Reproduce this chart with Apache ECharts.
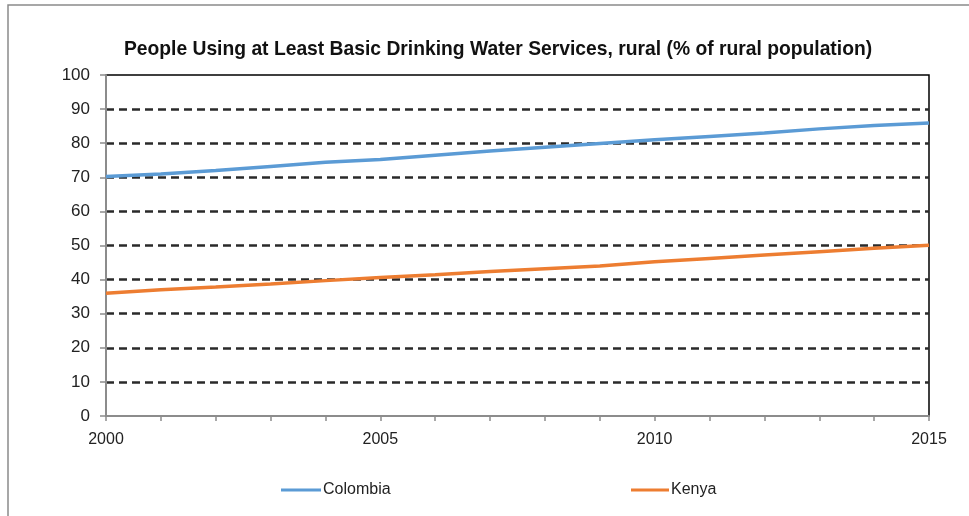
<!DOCTYPE html>
<html>
<head>
<meta charset="utf-8">
<title>Rural basic drinking water</title>
<script src="https://cdn.jsdelivr.net/npm/echarts@6/dist/echarts.min.js"></script>
<style>
  html, body { margin: 0; padding: 0; background: #fff; }
  #chart { width: 969px; height: 516px; }
</style>
</head>
<body>
<div id="chart"></div>
<script>
  // values
  var years = ['2000', '2001', '2002', '2003', '2004', '2005', '2006', '2007',
               '2008', '2009', '2010', '2011', '2012', '2013', '2014', '2015'];
  var colombia = [70.2, 71.0, 72.0, 73.2, 74.4, 75.2, 76.5, 77.7,
                  78.8, 79.9, 81.0, 82.0, 83.0, 84.2, 85.2, 85.9];
  var kenya = [36.0, 37.0, 37.8, 38.7, 39.7, 40.6, 41.4, 42.4,
               43.2, 44.0, 45.2, 46.2, 47.2, 48.2, 49.2, 50.1];
  var yTicks = [0, 10, 20, 30, 40, 50, 60, 70, 80, 90, 100];

  var FONT = '"Liberation Sans", Arial, sans-serif';
  var BLUE = '#5b9bd5';
  var ORANGE = '#ed7d31';

  var chart = echarts.init(document.getElementById('chart'));
  chart.setOption({
    animation: false,
    backgroundColor: '#fff',
    graphic: [{
      type: 'rect',
      shape: { x: 8, y: 5, width: 980, height: 540 },
      style: { fill: 'none', stroke: '#8a8a8a', lineWidth: 1.5 },
      silent: true
    }],
    title: {
      text: 'People Using at Least Basic Drinking Water Services, rural (% of rural population)',
      left: 493,
      top: 35,
      textAlign: 'center',
      textStyle: { fontFamily: FONT, fontSize: 19.3, fontWeight: 'bold', color: '#111' }
    },
    legend: [
      {
        data: ['Colombia'],
        left: 276, top: 477,
        itemWidth: 40, itemHeight: 3, itemGap: 0,
        icon: 'rect',
        textStyle: { fontFamily: FONT, fontSize: 16, color: '#222', padding: [0, 0, 0, -3] }
      },
      {
        data: ['Kenya'],
        left: 626, top: 477,
        itemWidth: 38, itemHeight: 3, itemGap: 0,
        icon: 'rect',
        textStyle: { fontFamily: FONT, fontSize: 16, color: '#222', padding: [0, 0, 0, -3] }
      }
    ],
    grid: {
      left: 106, right: 40, top: 75, bottom: 100,
      show: true, borderColor: '#000', borderWidth: 1.5
    },
    xAxis: {
      type: 'category',
      data: years,
      boundaryGap: false,
      axisLine: { lineStyle: { color: '#8c8c8c', width: 2 } },
      axisTick: { show: true, interval: 0, length: 5, inside: false, lineStyle: { color: '#8c8c8c', width: 1.5 } },
      axisLabel: { interval: 4, margin: 16, fontFamily: FONT, fontSize: 16, color: '#222' },
      splitLine: { show: false }
    },
    yAxis: {
      type: 'value',
      min: yTicks[0],
      max: yTicks[yTicks.length - 1],
      interval: 10,
      axisLine: { show: true, lineStyle: { color: '#8c8c8c', width: 2 } },
      axisTick: { show: true, length: 6, lineStyle: { color: '#8c8c8c', width: 1.5 } },
      axisLabel: { margin: 16, fontFamily: FONT, fontSize: 17, color: '#222' },
      splitLine: {
        showMinLine: false,
        showMaxLine: false,
        lineStyle: { color: '#2a2a2a', width: 2.5, type: [8, 5] }
      }
    },
    series: [
      {
        name: 'Colombia',
        type: 'line',
        data: colombia,
        showSymbol: false,
        color: BLUE,
        lineStyle: { width: 3.5, color: BLUE }
      },
      {
        name: 'Kenya',
        type: 'line',
        data: kenya,
        showSymbol: false,
        color: ORANGE,
        lineStyle: { width: 3.5, color: ORANGE }
      }
    ]
  });
</script>
</body>
</html>
